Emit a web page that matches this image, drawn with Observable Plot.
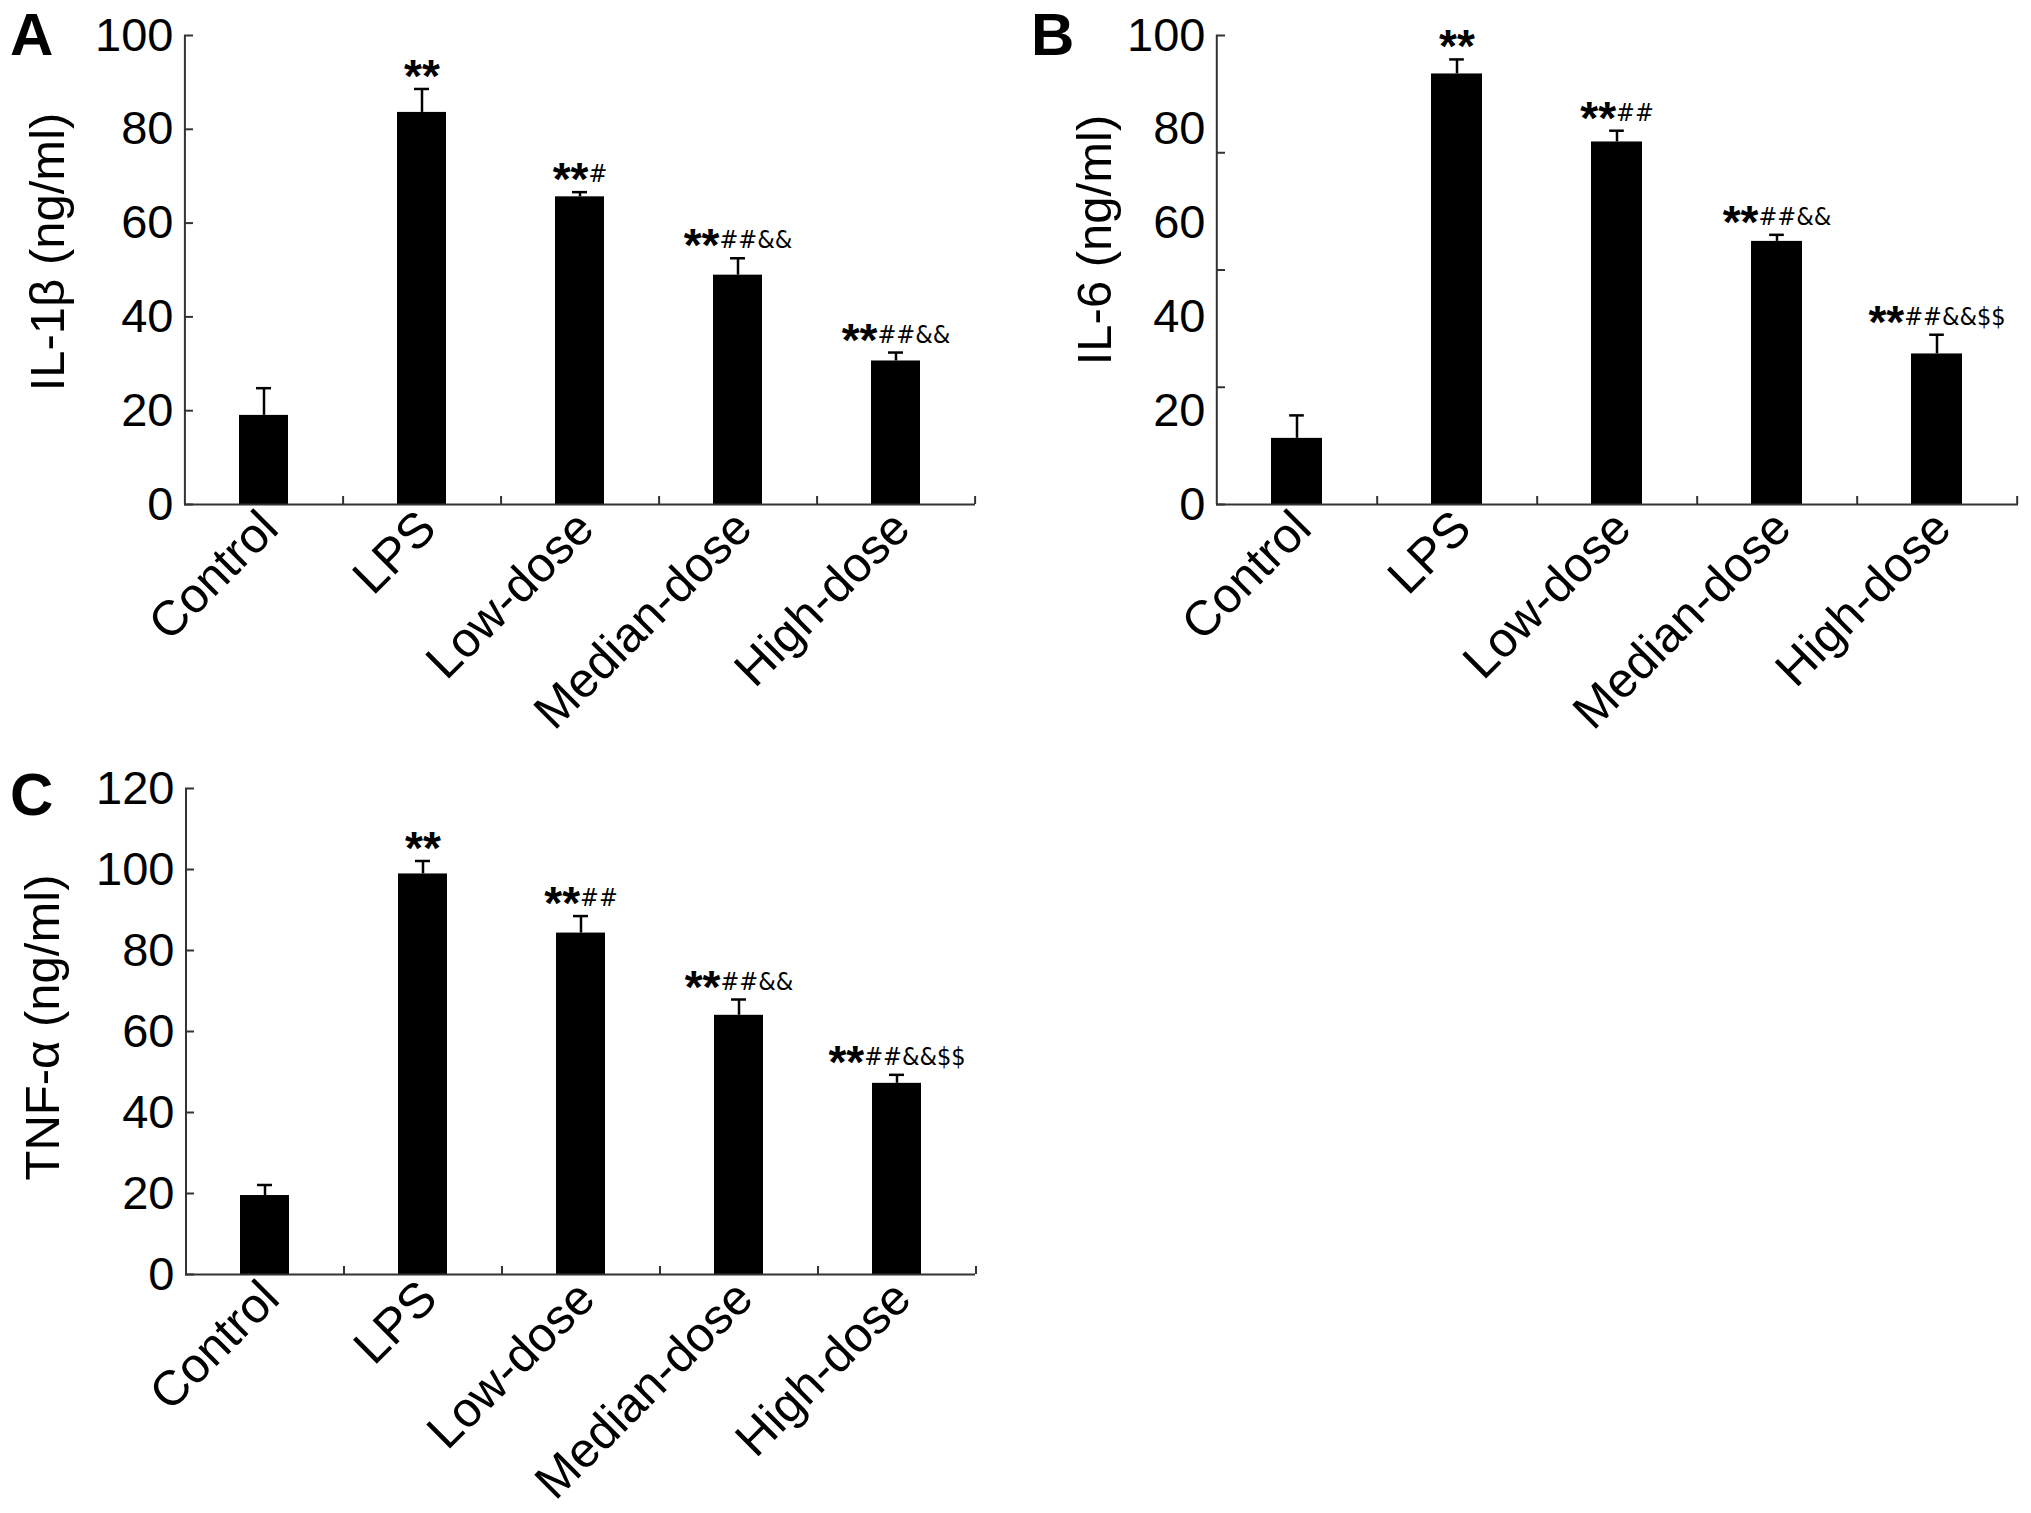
<!DOCTYPE html>
<html>
<head>
<meta charset="utf-8">
<script src="https://cdn.jsdelivr.net/npm/d3@7"></script>
<script src="https://cdn.jsdelivr.net/npm/@observablehq/plot@0.6"></script>
<style>
  html, body { margin: 0; padding: 0; background: white; }
  #page { position: relative; width: 2031px; height: 1513px; background: white; overflow: hidden; }
  .panel { position: absolute; z-index: 1; }
  .letter { position: absolute; z-index: 5; font-family: "Liberation Sans", Arial, sans-serif; font-weight: bold; font-size: 60px; line-height: 60px; color: black; }
</style>
</head>
<body>
<div id="page">
  <div class="panel" id="pA" style="left:0px; top:0px;"></div>
  <div class="panel" id="pB" style="left:1016px; top:0px;"></div>
  <div class="panel" id="pC" style="left:0px; top:750px;"></div>
  <div class="letter" style="left:10px; top:5px;">A</div>
  <div class="letter" style="left:1031px; top:5px;">B</div>
  <div class="letter" style="left:10px; top:765px;">C</div>
</div>
<script>
// ---- data ----
const categories = ["Control", "LPS", "Low-dose", "Median-dose", "High-dose"];

const il1bMean = [19.0, 83.6, 65.6, 48.9, 30.6];
const il1bSD   = [5.8, 5.0, 1.0, 3.6, 1.8];
const il1bStars = ["", "**", "**", "**", "**"];
const il1bMarks = ["", "", "#", "##&&", "##&&"];

const il6Mean = [14.1, 91.8, 77.3, 56.1, 32.1];
const il6SD   = [4.9, 3.1, 2.4, 1.4, 4.1];
const il6Stars = ["", "**", "**", "**", "**"];
const il6Marks = ["", "", "##", "##&&", "##&&$$"];

const tnfMean = [19.5, 98.9, 84.3, 64.0, 47.2];
const tnfSD   = [2.6, 3.2, 4.2, 3.9, 2.1];
const tnfStars = ["", "**", "**", "**", "**"];
const tnfMarks = ["", "", "##", "##&&", "##&&$$"];

const ticksA = [0, 20, 40, 60, 80, 100];
const ticksB_labels = [0, 20, 40, 60, 80, 100];
const ticksB_marks = [0, 25, 50, 75, 100];
const ticksC = [0, 20, 40, 60, 80, 100, 120];

// ---- helpers ----
const canvas = document.createElement("canvas");
const ctx = canvas.getContext("2d");
function measure(text, font) { ctx.font = font; return ctx.measureText(text).width; }

const STAR_FONT = "Liberation Sans";
const STAR_SIZE = 46;
const MARK_FONT = "DejaVu Sans Condensed";
const MARK_SIZE = 25;

function panel(o) {
  const step = (o.width - o.ml - o.mr) / categories.length;
  const bw = step * (1 - o.pad);
  const data = categories.map((c, i) => ({
    cat: c, v: o.mean[i], top: o.mean[i] + o.sd[i], s: o.stars[i], r: o.marks[i]
  }));
  const annot = data.filter(d => d.s || d.r).flatMap(d => {
    const wS = d.s ? measure(d.s, `bold ${STAR_SIZE}px "${STAR_FONT}"`) : 0;
    const wR = d.r ? measure(d.r, `${MARK_SIZE}px "${MARK_FONT}"`) : 0;
    const tot = wS + wR;
    const out = [];
    if (d.s) out.push(Plot.text([d], {x: "cat", y: "top", text: "s", textAnchor: "start", lineAnchor: "bottom",
      dx: -tot / 2, dy: 3, fontSize: STAR_SIZE, fontWeight: "bold", fontFamily: STAR_FONT, fill: "black"}));
    if (d.r) out.push(Plot.text([d], {x: "cat", y: "top", text: "r", textAnchor: "start", lineAnchor: "bottom",
      dx: -tot / 2 + wS, dy: -10, fontSize: MARK_SIZE, fontFamily: MARK_FONT, fill: "black"}));
    return out;
  });
  const capInset = (bw - 15) / 2;
  return Plot.plot({
    width: o.width, height: o.height,
    marginLeft: o.ml, marginRight: o.mr, marginTop: o.mt, marginBottom: o.mb,
    style: {fontFamily: "Liberation Sans, Arial, sans-serif", fontSize: "46px", background: "transparent", color: "black"},
    x: {type: "band", domain: categories, paddingInner: o.pad, paddingOuter: o.pad / 2, axis: null},
    y: {domain: [0, o.yMax], axis: null},
    marks: [
      Plot.barY(data, {x: "cat", y: "v", fill: "black"}),
      Plot.ruleX(data, {x: "cat", y1: "v", y2: "top", stroke: "black", strokeWidth: 2.5}),
      Plot.tickY(data, {x: "cat", y: "top", stroke: "black", strokeWidth: 2.5, insetLeft: capInset, insetRight: capInset}),
      Plot.ruleY([0], {stroke: "#333", strokeWidth: 2}),
      Plot.ruleX([categories[0]], {y1: 0, y2: o.yMax, dx: -step / 2, stroke: "#333", strokeWidth: 2}),
      Plot.axisY({ticks: o.labelTicks, tickSize: 0, tickPadding: 11, label: null, fontSize: 47}),
      Plot.axisY({ticks: o.markTicks, tickSize: -9, tickFormat: () => "", label: null, stroke: "#333", strokeWidth: 2}),
      Plot.axisX({tickSize: -8, dx: step / 2, tickFormat: () => "", label: null, stroke: "#333", strokeWidth: 2}),
      Plot.text(categories, {x: d => d, frameAnchor: "bottom", rotate: -45, textAnchor: "end", lineAnchor: "top",
        dx: -8, dy: 2, fontSize: 49, fill: "black"}),
      Plot.text([o.ylabel], {frameAnchor: "left", rotate: -90, textAnchor: "middle", lineAnchor: "bottom",
        dx: o.ylDx, dy: o.ylDy, fontSize: 49, fill: "black"}),
      ...annot
    ]
  });
}

document.getElementById("pA").appendChild(panel({
  width: 1000, height: 800, ml: 184, mr: 25, mt: 35, mb: 296, pad: 0.69,
  mean: il1bMean, sd: il1bSD, stars: il1bStars, marks: il1bMarks, yMax: 100,
  labelTicks: ticksA, markTicks: ticksA, ylabel: "IL-1β (ng/ml)", ylDx: -121, ylDy: -18
}));
document.getElementById("pB").appendChild(panel({
  width: 1015, height: 800, ml: 200, mr: 13, mt: 35, mb: 296, pad: 0.68,
  mean: il6Mean, sd: il6SD, stars: il6Stars, marks: il6Marks, yMax: 100,
  labelTicks: ticksB_labels, markTicks: ticksB_marks, ylabel: "IL-6 (ng/ml)", ylDx: -106, ylDy: -30
}));
document.getElementById("pC").appendChild(panel({
  width: 1000, height: 763, ml: 185, mr: 25, mt: 38, mb: 239, pad: 0.69,
  mean: tnfMean, sd: tnfSD, stars: tnfStars, marks: tnfMarks, yMax: 120,
  labelTicks: ticksC, markTicks: ticksC, ylabel: "TNF-α (ng/ml)", ylDx: -127, ylDy: -4
}));
</script>
</body>
</html>
